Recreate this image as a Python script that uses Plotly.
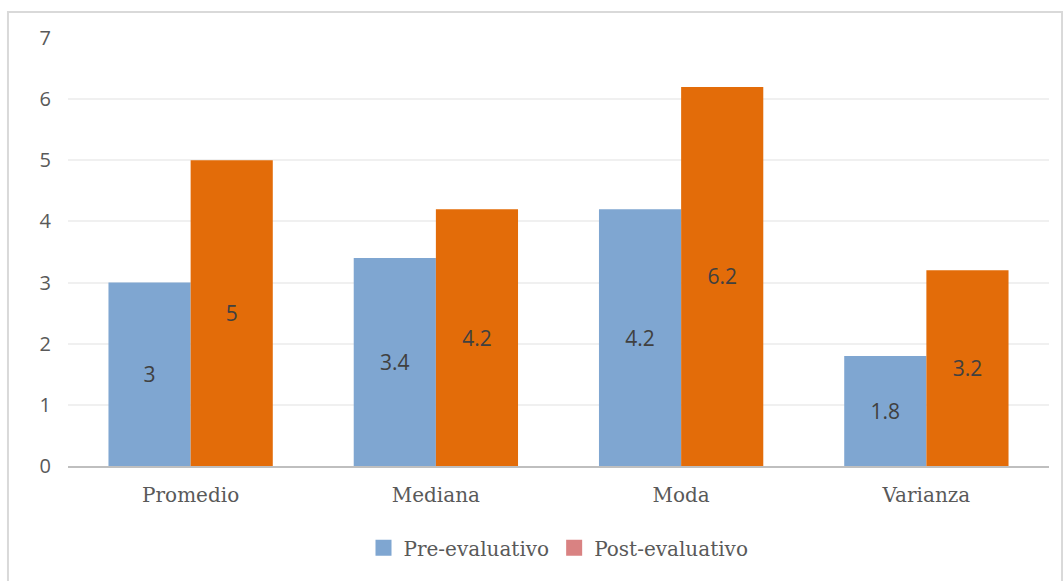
import plotly.graph_objects as go

categories = ["Promedio", "Mediana", "Moda", "Varianza"]
pre_values = [3, 3.4, 4.2, 1.8]
post_values = [5, 4.2, 6.2, 3.2]
y_ticks = [0, 1, 2, 3, 4, 5, 6, 7]

BLUE = "#7FA6D1"
ORANGE = "#E36C09"
SERIF = "DejaVu Serif, Liberation Serif, serif"
SANS = "Open Sans, Lato, sans-serif"

fig = go.Figure()
fig.add_trace(go.Bar(
    x=categories, y=pre_values, name="Pre-evaluativo",
    marker=dict(color=BLUE, line=dict(width=0)),
    text=[str(v) for v in pre_values], textposition="inside",
    insidetextanchor="middle",
    textfont=dict(family=SANS, size=21, color="#404040"),
    showlegend=False,
))
fig.add_trace(go.Bar(
    x=categories, y=post_values, name="Post-evaluativo",
    marker=dict(color=ORANGE, line=dict(width=0)),
    text=[str(v) for v in post_values], textposition="inside",
    insidetextanchor="middle",
    textfont=dict(family=SANS, size=21, color="#404040"),
    showlegend=False,
))
# legend entries
fig.add_trace(go.Scatter(x=[None], y=[None], mode="markers", name="Pre-evaluativo",
                         marker=dict(symbol="square", size=18, color=BLUE)))
fig.add_trace(go.Scatter(x=[None], y=[None], mode="markers", name="Post-evaluativo",
                         marker=dict(symbol="square", size=18, color="#D98282")))

fig.update_layout(
    width=1063, height=581,
    margin=dict(l=68, r=14, t=38, b=115),
    paper_bgcolor="white", plot_bgcolor="white",
    barmode="group", bargap=0.33, bargroupgap=0,
    uniformtext=dict(mode=None),
    legend=dict(orientation="h", x=0.5, xanchor="center", y=-0.191, yanchor="middle",
                font=dict(family=SERIF, size=20, color="#595959"),
                itemwidth=30, tracegroupgap=0),
    xaxis=dict(showline=True, linecolor="#BFBFBF", linewidth=2, ticks="",
               tickfont=dict(family=SERIF, size=20, color="#595959"),
               showgrid=False, ticklabelstandoff=10),
    yaxis=dict(range=[0, 7], tickvals=y_ticks, showgrid=True, gridcolor="#F0F0F0",
               gridwidth=2, zeroline=False, showline=False,
               tickfont=dict(family=SANS, size=20, color="#595959"),
               ticklabelstandoff=16),
    shapes=[dict(type="rect", xref="paper", yref="paper",
                 x0=-0.0612, x1=1.0133, y0=-0.3, y1=1.0607,
                 line=dict(color="#D9D9D9", width=2), fillcolor="rgba(0,0,0,0)",
                 layer="below")],
)

fig.write_html("out.html")
